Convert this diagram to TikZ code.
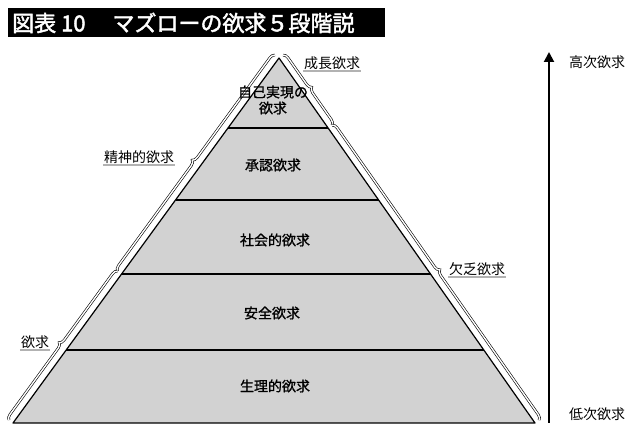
\documentclass[tikz,border=0pt]{standalone}
\usepackage{fontspec}
\setmainfont{Noto Sans CJK JP}
\newfontfamily\jpbold{Noto Sans CJK JP}[FakeBold=2]
\newfontfamily\jpmed{Noto Sans CJK JP}[FakeBold=1]
\usetikzlibrary{calc,decorations.pathreplacing,arrows.meta}
\begin{document}
\begin{tikzpicture}[x=1pt,y=-1pt,
  layer/.style={draw=black,line width=1.2pt,fill=gray!35},
  lvl/.style={font=\jpmed\fontsize{14}{16}\selectfont,align=center,inner sep=1pt},
  side/.style={font=\fontsize{14}{16}\selectfont,inner sep=1pt},
  br/.style={decorate,decoration={brace,amplitude=5pt,raise=5pt},draw=black,double=white,double distance=1.4pt,line width=0.6pt},
  brm/.style={decorate,decoration={brace,amplitude=5pt,raise=5pt,mirror},draw=black,double=white,double distance=1.4pt,line width=0.6pt}]
\useasboundingbox (0,0) rectangle (640,443);
\fill[black] (8,8) rectangle (385,37);
\node[anchor=west,text=white,font=\jpbold\fontsize{22}{24}\selectfont,inner sep=0] (title) at (12,23) {図表 10\quad\ マズローの欲求５段階説};
\coordinate (apex) at (279,58);
\coordinate (bl) at (13,423);
\coordinate (br) at (535,423);
\draw[layer,line join=round] (apex) -- (br) -- (bl) -- cycle;
\foreach \t/\n in {0.192/a,0.389/b,0.592/c,0.8/d}{
  \coordinate (L\n) at ($(apex)!\t!(bl)$);
  \coordinate (R\n) at ($(apex)!\t!(br)$);
  \draw[line width=1.2pt] (L\n) -- (R\n);
}
% braces
\draw[br] (apex) -- (Ra);
\draw[br] (Ra) -- (br);
\draw[brm] (apex) -- (Lc);
\draw[brm] (Lc) -- (bl);
% level labels
\node[lvl] (l5) at (273,100) {自己実現の\\欲求};
\node[lvl] (l4) at (273,165) {承認欲求};
\node[lvl] (l3) at (275,240) {社会的欲求};
\node[lvl] (l2) at (272,313) {安全欲求};
\node[lvl] (l1) at (275,386) {生理的欲求};
% side labels
\foreach \p/\n/\s in {{(332,63)}/s1/成長欲求,{(139,157)}/s2/精神的欲求,{(477,269)}/s3/欠乏欲求,{(35,342)}/s4/欲求}{
  \node[side] (\n) at \p {\s};
  \draw[gray!60,line width=1.5pt] ($(\n.south west)+(0,0.5)$) -- ($(\n.south east)+(0,0.5)$);
}
% arrow
\coordinate (ab) at (549,423);
\coordinate (at) at (549,52);
\draw[line width=2pt,-{Triangle[length=10pt,width=10pt]}] (ab) -- (at);
\node[side] (hi) at (597,62) {高次欲求};
\node[side] (lo) at (597,414) {低次欲求};
\end{tikzpicture}
\end{document}
